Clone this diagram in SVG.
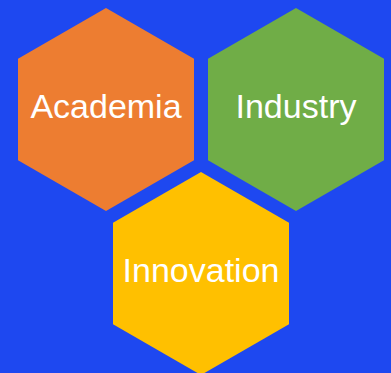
<svg xmlns="http://www.w3.org/2000/svg" width="391" height="373" viewBox="0 0 391 373">
<style>
.lbl{font-family:"Liberation Sans",Arial,sans-serif;font-size:34px;fill:#ffffff;text-anchor:middle}
</style>
<rect width="391" height="373" fill="#1E48F0"/>
<g id="academia">
<polygon points="106,8 194,58.75 194,160.25 106,211 18,160.25 18,58.75" fill="#ED7D31"/>
<text class="lbl" x="106" y="118">Academia</text>
</g>
<g id="industry">
<polygon points="296,8 384,58.75 384,160.25 296,211 208,160.25 208,58.75" fill="#70AD47"/>
<text class="lbl" x="296" y="118">Industry</text>
</g>
<g id="innovation">
<polygon points="201,172 289,222.75 289,324.25 201,375 113,324.25 113,222.75" fill="#FFC000"/>
<text class="lbl" x="201" y="282">Innovation</text>
</g>
<g id="connectors"></g>
</svg>
